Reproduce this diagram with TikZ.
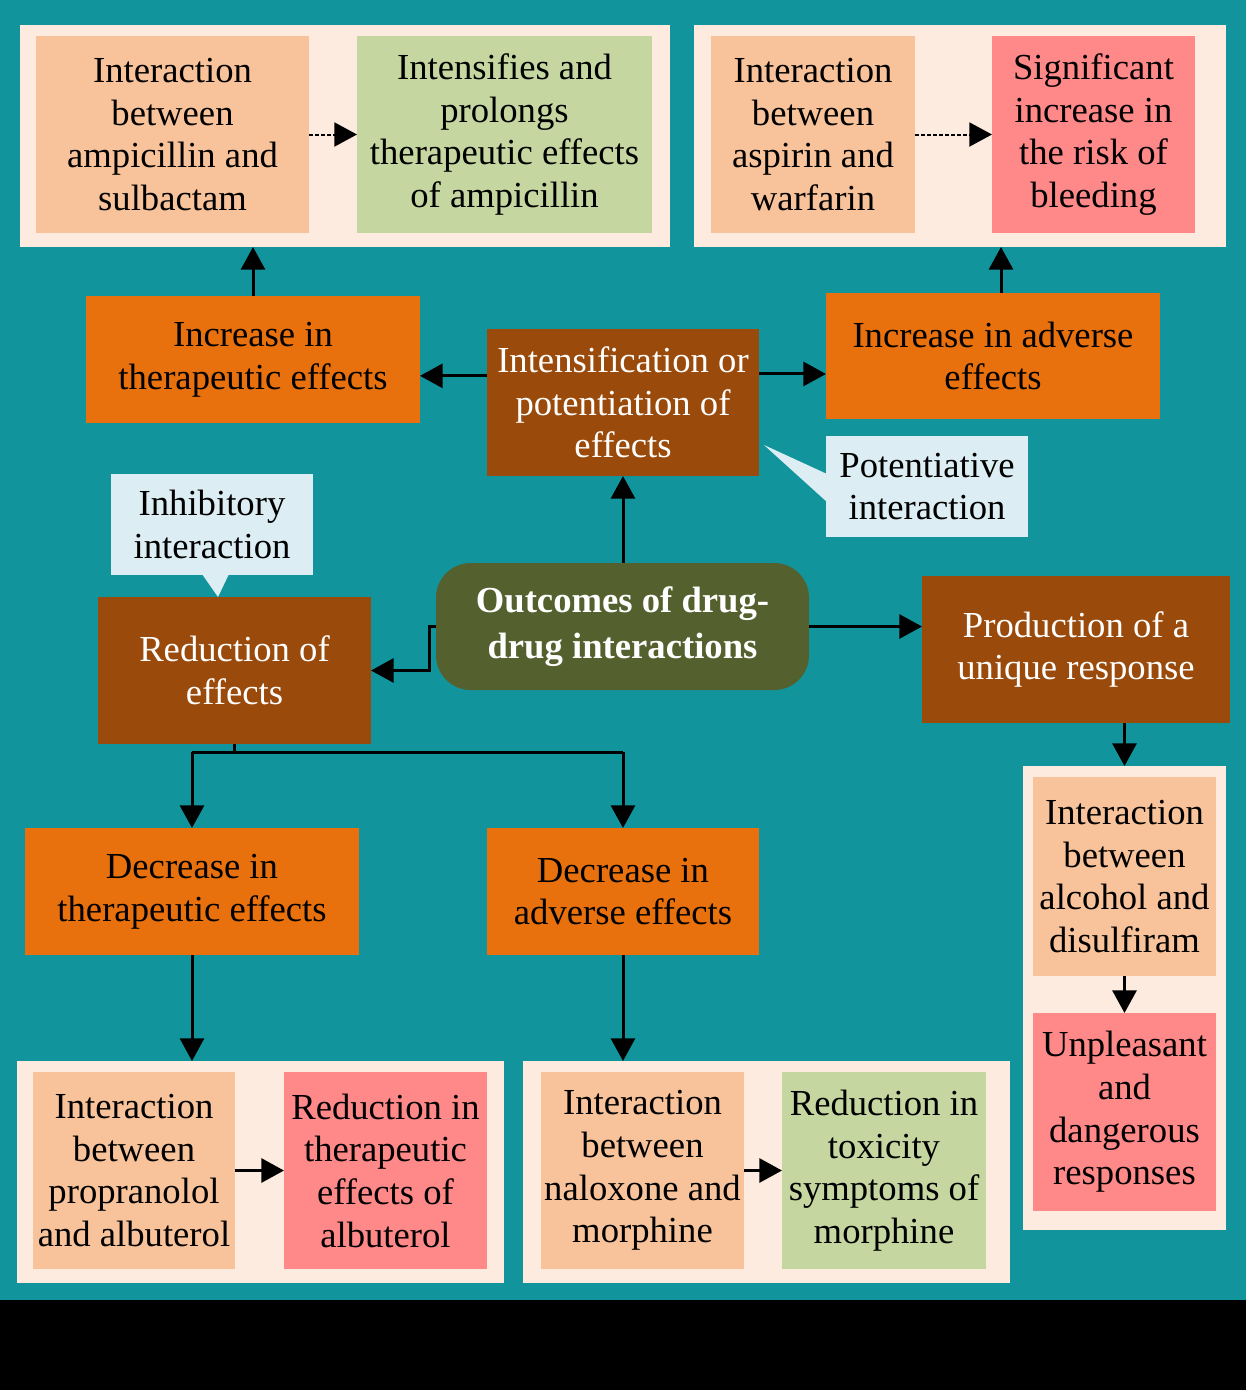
\documentclass[tikz,border=0pt]{standalone}
\usepackage{fontspec}
\setmainfont{Liberation Serif}
\usetikzlibrary{arrows.meta,calc}
\definecolor{teal0}{RGB}{18,148,156}
\definecolor{cream}{RGB}{253,235,223}
\definecolor{peach}{RGB}{248,195,154}
\definecolor{sage}{RGB}{197,214,160}
\definecolor{rose}{RGB}{255,136,136}
\definecolor{orng}{RGB}{232,113,14}
\definecolor{brwn}{RGB}{154,74,10}
\definecolor{olive}{RGB}{85,96,47}
\definecolor{callb}{RGB}{220,238,243}
\begin{document}
\begin{tikzpicture}[x=0.75pt,y=-0.75pt,
  sz/.style 2 args={minimum width={#1*0.75pt}, minimum height={#2*0.75pt}},
  base/.style={rectangle, inner sep=0pt, outer sep=0pt, align=center,
    font=\fontsize{27.5pt}{32pt}\selectfont},
  holder/.style={base, fill=cream},
  peachbox/.style={base, fill=peach, text=black},
  sagebox/.style={base, fill=sage, text=black},
  rosebox/.style={base, fill=rose, text=black},
  orangebox/.style={base, fill=orng, text=black},
  brownbox/.style={base, fill=brwn, text=white},
  callbox/.style={base, fill=callb, text=black},
  hubbox/.style={base, fill=olive, text=white, rounded corners=26pt,
    font=\fontsize{27.5pt}{34pt}\selectfont\bfseries},
  ln/.style={line width=2.25pt, draw=black},
  arr/.style={ln, -{Triangle[length=17pt,width=18pt]}},
  dasharr/.style={line width=1.5pt, draw=black, dash pattern=on 3pt off 1.5pt,
    -{Triangle[length=17pt,width=18pt]}}
]
\useasboundingbox (0,0) rectangle (1246,1390);
\fill[teal0] (0,0) rectangle (1246,1300);
\fill[black] (0,1300) rectangle (1246,1390);

% top-left group
\node[holder, sz={650}{222}] (tl) at (345,136) {};
\node[peachbox, sz={273}{197}] (a1) at (172.5,134.5) {Interaction\\between\\ampicillin and\\sulbactam};
\node[sagebox, sz={295}{197}] (a2) at (504.5,134.5) {Intensifies and\\prolongs\\therapeutic effects\\of ampicillin};
% top-right group
\node[holder, sz={532}{222}] (tr) at (960,136) {};
\node[peachbox, sz={204}{197}] (b1) at (813,134.5) {Interaction\\between\\aspirin and\\warfarin};
\node[rosebox, sz={203}{197}] (b2) at (1093.5,134.5) {Significant\\increase in\\the risk of\\bleeding};

\node[orangebox, sz={334}{127}] (incth) at (253,359.5) {Increase in\\therapeutic effects};
\node[brownbox, sz={272}{147}] (intens) at (623,402.5) {Intensification or\\potentiation of\\effects};
\node[orangebox, sz={334}{126}] (incad) at (993,356) {Increase in adverse\\effects};

% callouts
\fill[callb] (827,474) -- (764,445) -- (827,502) -- cycle;
\node[callbox, sz={202}{101}] (pot) at (927,486.5) {Potentiative\\interaction};
\fill[callb] (202,574) -- (218,597) -- (229,574) -- cycle;
\node[callbox, sz={202}{101}] (inh) at (212,524.5) {Inhibitory\\interaction};

\node[hubbox, sz={373}{127}] (hub) at (622.5,626.5) {Outcomes of drug-\\drug interactions};
\node[brownbox, sz={273}{147}] (red) at (234.5,670.5) {Reduction of\\effects};
\node[brownbox, sz={308}{147}] (prod) at (1076,649.5) {Production of a\\unique response};

% right column
\node[holder, sz={203}{464}] (rt) at (1124.5,998) {};
\node[peachbox, sz={183}{199}] (c1) at (1124.5,876.5) {Interaction\\between\\alcohol and\\disulfiram};
\node[rosebox, sz={183}{198}] (c2) at (1124.5,1112) {Unpleasant\\and\\dangerous\\responses};

\node[orangebox, sz={334}{127}] (decth) at (192,891.5) {Decrease in\\therapeutic effects};
\node[orangebox, sz={272}{127}] (decad) at (623,891.5) {Decrease in\\adverse effects};

% bottom groups
\node[holder, sz={487}{222}] (bl) at (260.5,1172) {};
\node[peachbox, sz={202}{197}] (d1) at (134,1170.5) {Interaction\\between\\propranolol\\and albuterol};
\node[rosebox, sz={203}{197}] (d2) at (385.5,1170.5) {Reduction in\\therapeutic\\effects of\\albuterol};
\node[holder, sz={487}{222}] (bm) at (766.5,1172) {};
\node[peachbox, sz={203}{197}] (e1) at (642.5,1170.5) {Interaction\\between\\naloxone and\\morphine};
\node[sagebox, sz={204}{197}] (e2) at (884,1170.5) {Reduction in\\toxicity\\symptoms of\\morphine};

% connectors
\draw[dasharr] (a1.east) -- (a2.west);
\draw[dasharr] (b1.east) -- (b2.west);
\draw[arr] (d1.east) -- (d2.west);
\draw[arr] (e1.east) -- (e2.west);

\draw[arr] (incth.north) -- (incth.north |- tl.south);
\draw[arr] ([xshift=6pt]incad.north) -- ([xshift=6pt]incad.north |- tr.south);
\draw[arr] ([yshift=20pt]intens.west) -- ([yshift=20pt]intens.west -| incth.east);
\draw[arr] ([yshift=21.4pt]intens.east) -- ([yshift=21.4pt]intens.east -| incad.west);
\draw[arr] (hub.north -| intens.south) -- (intens.south);
\draw[arr] (hub.east) -- (hub.east -| prod.west);
\draw[arr] (hub.west) -- ++(-7,0) |- (red.east);
\draw[arr] (rt.north |- prod.south) -- (rt.north);
\draw[arr] (c1.south) -- (c2.north);

\draw[ln] (red.south) -- ++(0,8) coordinate (j);
\draw[ln] (j -| decth.north) -- (j -| decad.north);
\draw[arr] (j -| decth.north) -- (decth.north);
\draw[arr] (j -| decad.north) -- (decad.north);
\draw[arr] (decth.south) -- (decth.south |- bl.north);
\draw[arr] (decad.south) -- (decad.south |- bm.north);
\end{tikzpicture}
\end{document}
